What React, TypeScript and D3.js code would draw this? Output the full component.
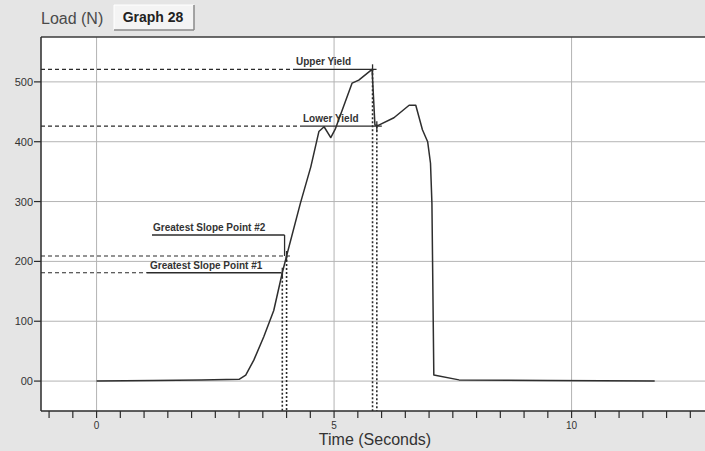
import React from "react";
import * as d3 from "d3";

// Load vs. time trace of a tensile test
const timeSeconds = [
  0, 1.2, 2.2, 3.0, 3.14, 3.31, 3.52, 3.73, 3.91, 4.0, 4.29, 4.51, 4.68, 4.79,
  4.93, 5.03, 5.38, 5.52, 5.8, 5.86, 5.92, 6.26, 6.58, 6.72, 6.86, 6.97, 7.03,
  7.06, 7.1, 7.63, 9.5, 11.75,
];
const loadNewtons = [
  0, 1, 2, 3, 10, 35, 74, 118, 181, 209, 297, 358, 417, 425,
  407, 422, 498, 503, 521, 428, 427, 440, 461, 461, 420, 400, 364,
  297, 10, 2, 1, 0,
];

// Marked points on the curve
const markerLabels = ["Upper Yield", "Lower Yield", "Greatest Slope Point #2", "Greatest Slope Point #1"];
const markerTimes = [5.81, 5.9, 4.0, 3.91];
const markerLoads = [521, 426, 209, 181];

// Axis ticks
const yTickValues = [0, 100, 200, 300, 400, 500];
const yTickLabels = ["00", "100", "200", "300", "400", "500"];
const xLabelValues = [0, 5, 10];
const xLabelTexts = ["0", "5", "10"];

const W = 705;
const H = 451;
const plot = { left: 41, top: 37, right: 706, bottom: 411 };

// Where each marker's caption line sits relative to its point
const markerLayout = [
  { textX: 296, lineStart: 295, lineEndDx: 4, lift: 0 },
  { textX: 303, lineStart: 302, lineEndDx: 5, lift: 0 },
  { textX: 153, lineStart: 152, lineEndDx: -2, lift: 21 },
  { textX: 150, lineStart: 147, lineEndDx: -1, lift: 0 },
];

const ink = "#2b2b2b";
const font = "'Liberation Sans', Arial, sans-serif";

export default function App() {
  const x = d3.scaleLinear().domain([-1.17, 12.83]).range([plot.left, plot.right]);
  const y = d3.scaleLinear().domain([-50, 575]).range([plot.bottom, plot.top]);

  const pts: [number, number][] = timeSeconds.map((t, i) => [t, loadNewtons[i]]);
  const line = d3
    .line<[number, number]>()
    .x((d) => x(d[0]))
    .y((d) => y(d[1]));

  const minorTicks = d3.range(-1, 12.51, 0.5);

  return (
    <svg
      width={W}
      height={H}
      style={{ position: "absolute", left: 0, top: 0, display: "block" }}
      fontFamily={font}
    >
      <defs>
        <clipPath id="plotClip">
          <rect x={plot.left} y={plot.top} width={plot.right - plot.left} height={plot.bottom - plot.top} />
        </clipPath>
      </defs>
      <rect x={0} y={0} width={W} height={H} fill="#e5e5e5" />

      {/* title and tab button */}
      <text x={41} y={24} fontSize={16} fill="#4a4a4a">
        Load (N)
      </text>
      <rect x={114} y={5} width={80} height={25} fill="#f4f4f4" />
      <line x1={114} y1={5} x2={194} y2={5} stroke="#ffffff" strokeWidth={1} />
      <line x1={114} y1={5} x2={114} y2={30} stroke="#ffffff" strokeWidth={1} />
      <line x1={114} y1={30} x2={194} y2={30} stroke="#8a8a8a" strokeWidth={1.5} />
      <line x1={194} y1={5} x2={194} y2={30} stroke="#8a8a8a" strokeWidth={1.5} />
      <text x={153} y={22} fontSize={14} fontWeight="bold" fill="#222" textAnchor="middle">
        Graph 28
      </text>

      {/* plot background */}
      <rect x={plot.left} y={plot.top} width={plot.right - plot.left} height={plot.bottom - plot.top} fill="#ffffff" />

      <g clipPath="url(#plotClip)">
        {/* grid */}
        {yTickValues.map((v) => (
          <line key={"gy" + v} x1={plot.left} x2={plot.right} y1={y(v)} y2={y(v)} stroke="#b4b4b4" strokeWidth={1} />
        ))}
        {xLabelValues.map((v) => (
          <line key={"gx" + v} x1={x(v)} x2={x(v)} y1={plot.top} y2={plot.bottom} stroke="#b4b4b4" strokeWidth={1} />
        ))}

        {/* marker guides */}
        {markerLabels.map((label, i) => {
          const L = markerLayout[i];
          const px = x(markerTimes[i]);
          const py = y(markerLoads[i]);
          const capY = py - L.lift;
          const dashEnd = L.lift > 0 ? px + 6 : L.lineStart;
          return (
            <g key={"m" + i}>
              <line x1={plot.left} x2={dashEnd} y1={py} y2={py} stroke={ink} strokeWidth={1.2} strokeDasharray="4,3" />
              <line x1={L.lineStart} x2={px + L.lineEndDx} y1={capY} y2={capY} stroke={ink} strokeWidth={1.3} />
              {L.lift > 0 && (
                <line x1={px + L.lineEndDx} x2={px + L.lineEndDx} y1={capY} y2={py} stroke={ink} strokeWidth={1.3} />
              )}
              <line x1={px} x2={px} y1={py - 5} y2={py + 5} stroke={ink} strokeWidth={1.3} />
              <line x1={px} x2={px} y1={py} y2={plot.bottom} stroke={ink} strokeWidth={1.6} strokeDasharray="2,2" />
              <text x={L.textX} y={capY - 4} fontSize={10} fontWeight="bold" fill="#333">
                {label}
              </text>
            </g>
          );
        })}

        {/* load curve */}
        <path d={line(pts) ?? ""} fill="none" stroke="#2e2e2e" strokeWidth={1.5} strokeLinejoin="round" />
      </g>

      {/* axes frame */}
      <line x1={plot.left} x2={plot.right} y1={plot.top} y2={plot.top} stroke="#3a3a3a" strokeWidth={1.5} />
      <line x1={plot.left} x2={plot.left} y1={plot.top} y2={plot.bottom} stroke="#2a2a2a" strokeWidth={1.5} />
      <line x1={plot.left} x2={plot.right} y1={plot.bottom} y2={plot.bottom} stroke="#2a2a2a" strokeWidth={1.5} />

      {/* y ticks */}
      {yTickValues.map((v, i) => (
        <g key={"yt" + v}>
          <line x1={plot.left - 7} x2={plot.left} y1={y(v)} y2={y(v)} stroke={ink} strokeWidth={1.2} />
          <text x={plot.left - 8} y={y(v) + 4} fontSize={11} textAnchor="end" fill="#333">
            {yTickLabels[i]}
          </text>
        </g>
      ))}

      {/* x ticks */}
      {minorTicks.map((v) => (
        <line key={"xt" + v} x1={x(v)} x2={x(v)} y1={plot.bottom} y2={plot.bottom + 7} stroke={ink} strokeWidth={1.2} />
      ))}
      {xLabelValues.map((v, i) => (
        <text key={"xl" + v} x={x(v)} y={429} fontSize={10} textAnchor="middle" fill="#333">
          {xLabelTexts[i]}
        </text>
      ))}
      <text x={375} y={445} fontSize={16} textAnchor="middle" fill="#333">
        Time (Seconds)
      </text>
    </svg>
  );
}
